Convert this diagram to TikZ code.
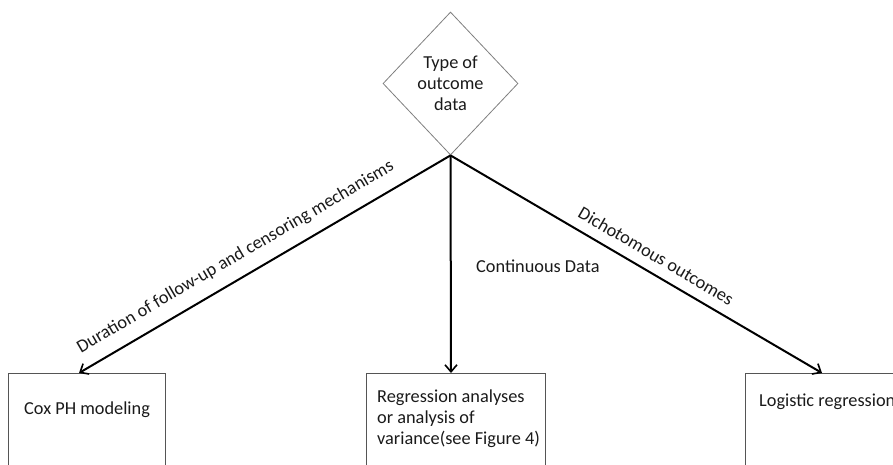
\documentclass[tikz,border=0pt]{standalone}
\usepackage{fontspec}
\setmainfont{Carlito}
\usetikzlibrary{shapes.geometric,arrows.meta}
\definecolor{txt}{HTML}{1A1A1A}
\definecolor{dgrey}{HTML}{7F7F7F}
\definecolor{bgrey}{HTML}{555555}
\begin{document}
\begin{tikzpicture}[x=1pt,y=-1pt,
  every node/.style={font=\fontsize{18.3}{21}\selectfont, text=txt},
  decision/.style={draw=dgrey, line width=0.8pt, diamond, minimum width=135pt, minimum height=143pt, inner sep=0pt, align=center},
  outbox/.style={draw=bgrey, line width=0.9pt, rectangle, anchor=north west, inner sep=0pt},
  boxtext/.style={anchor=north west, align=left, inner sep=0pt},
  conn/.style={draw=black, line width=2pt, -{Straight Barb[length=7pt,width=12pt,line width=1.6pt]}},
  elabel/.style={sloped, above, inner sep=0pt}]
\useasboundingbox (0,0) rectangle (893,464);
\clip (0,0) rectangle (893,464);
\node[decision] (dec) at (450.5,83.5) {Type of\\outcome\\data};
\node[outbox, minimum width=157pt, minimum height=110pt] (box1) at (8,373) {};
\node[outbox, minimum width=179pt, minimum height=110pt] (box2) at (366,373) {};
\node[outbox, minimum width=170pt, minimum height=110pt] (box3) at (745,373) {};
\node[boxtext] (t1) at (24,402) {Cox PH modeling};
\node[boxtext] (t2) at (377,390) {Regression analyses\\or analysis of\\variance(see Figure 4)};
\node[boxtext] (t3) at (759,394) {Logistic regression};
\coordinate (e1) at (79,373);
\coordinate (e2) at (451,373);
\coordinate (e3) at (822,373);
\draw[conn] (dec.south) -- node[elabel, pos=0.55, yshift=12pt] (l1) {Duration of follow-up and censoring mechanisms} (e1);
\draw[conn] (dec.south) -- (e2);
\draw[conn] (dec.south) -- node[elabel, pos=0.53, yshift=10pt] (l3) {Dichotomous outcomes} (e3);
\node[anchor=west, inner sep=0pt] (l2) at (476,266) {Continuous Data};
\end{tikzpicture}
\end{document}
